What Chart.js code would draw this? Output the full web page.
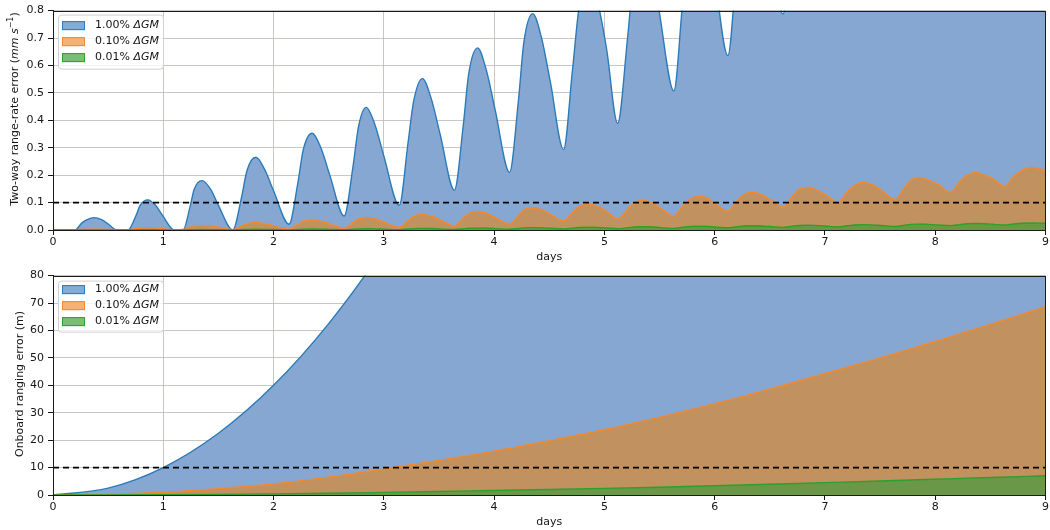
<!DOCTYPE html>
<html>
<head>
<meta charset="utf-8">
<script src="https://cdn.jsdelivr.net/npm/chart.js@4.4.1/dist/chart.umd.min.js"></script>
<style>
  body { margin: 0; background: #fff; }
  .panel { position: absolute; left: 0; width: 1050px; height: 265px; }
</style>
</head>
<body>
<div class="panel" style="top:0"><canvas id="rateChart" width="1050" height="265"></canvas></div>
<div class="panel" style="top:265px"><canvas id="rangeChart" width="1050" height="265"></canvas></div>
<script>
// ---- data ----
const dayTicks = [0, 1, 2, 3, 4, 5, 6, 7, 8, 9];
const rateTicks = [0, 0.1, 0.2, 0.3, 0.4, 0.5, 0.6, 0.7, 0.8];
const rangeTicks = [0, 10, 20, 30, 40, 50, 60, 70, 80];
const seriesNames = ['1.00% ', '0.10% ', '0.01% '];
const rateLimit = 0.1;
const rangeLimit = 10;

// two-way range-rate error (mm/s); one row per oscillation:
// rising flank, shoulder, peak, shoulder, falling flank, trough
const rrDays = [0,
  0.2, 0.26, 0.31, 0.37, 0.44, 0.5, 0.58,
  0.68, 0.75, 0.79, 0.86, 0.93, 0.99, 1.1,
  1.18, 1.24, 1.28, 1.35, 1.43, 1.5, 1.63,
  1.71, 1.76, 1.84, 1.92, 2.0, 2.14,
  2.22, 2.27, 2.35, 2.43, 2.51, 2.64,
  2.72, 2.77, 2.84, 2.92, 3.0, 3.14,
  3.22, 3.27, 3.35, 3.43, 3.51, 3.64,
  3.72, 3.77, 3.85, 3.93, 4.01, 4.14,
  4.22, 4.27, 4.35, 4.43, 4.51, 4.63,
  4.71, 4.77, 4.86, 4.94, 5.02, 5.12,
  5.21, 5.27, 5.35, 5.43, 5.5, 5.63,
  5.71, 5.78, 5.86, 5.94, 6.0, 6.12,
  6.2, 6.26, 6.34, 6.42, 6.5, 6.62,
  6.7, 6.76, 6.83, 6.91, 7.0, 7.12,
  7.2, 7.27, 7.35, 7.43, 7.51, 7.64,
  7.72, 7.78, 7.85, 7.93, 8.02, 8.14,
  8.22, 8.29, 8.37, 8.45, 8.52, 8.63,
  8.71, 8.8, 8.88, 9.0];
const rrBlue = [0,
  0, 0.025, 0.038, 0.045, 0.038, 0.022, 0,
  0, 0.05, 0.09, 0.11, 0.09, 0.055, 0,
  0, 0.08, 0.148, 0.18, 0.148, 0.09, 0,
  0.12, 0.218, 0.265, 0.22, 0.143, 0.021,
  0.17, 0.294, 0.353, 0.299, 0.2, 0.051,
  0.23, 0.376, 0.447, 0.383, 0.27, 0.09,
  0.32, 0.469, 0.552, 0.479, 0.35, 0.145,
  0.38, 0.57, 0.664, 0.582, 0.437, 0.21,
  0.47, 0.685, 0.789, 0.7, 0.54, 0.293,
  0.58, 0.81, 0.93, 0.83, 0.66, 0.389,
  0.7, 0.95, 1.07, 0.97, 0.79, 0.507,
  0.83, 1.09, 1.22, 1.11, 0.93, 0.636,
  0.97, 1.24, 1.37, 1.27, 1.08, 0.787,
  1.13, 1.41, 1.55, 1.45, 1.27, 0.99,
  1.33, 1.6, 1.74, 1.63, 1.43, 1.12,
  1.48, 1.78, 1.92, 1.83, 1.65, 1.38,
  1.7, 1.97, 2.1, 2.01, 1.85, 1.59,
  1.9, 2.2, 2.28, 2.17];
const rrOrange = [0,
  0.001, 0.002, 0.0027, 0.003, 0.0027, 0.002, 0.001,
  0.001, 0.005, 0.007, 0.008, 0.007, 0.005, 0.001,
  0.002, 0.01, 0.015, 0.017, 0.015, 0.01, 0.001,
  0.015, 0.023, 0.027, 0.023, 0.016, 0.003,
  0.02, 0.031, 0.036, 0.032, 0.022, 0.006,
  0.027, 0.04, 0.046, 0.041, 0.029, 0.01,
  0.034, 0.05, 0.057, 0.051, 0.037, 0.015,
  0.043, 0.061, 0.068, 0.061, 0.046, 0.022,
  0.052, 0.073, 0.081, 0.074, 0.057, 0.033,
  0.064, 0.086, 0.094, 0.086, 0.068, 0.04,
  0.075, 0.1, 0.109, 0.1, 0.082, 0.051,
  0.088, 0.114, 0.123, 0.115, 0.097, 0.069,
  0.104, 0.128, 0.138, 0.13, 0.112, 0.083,
  0.12, 0.146, 0.156, 0.148, 0.13, 0.1,
  0.138, 0.163, 0.174, 0.165, 0.145, 0.112,
  0.153, 0.181, 0.192, 0.183, 0.167, 0.138,
  0.175, 0.2, 0.21, 0.2, 0.187, 0.159,
  0.195, 0.22, 0.228, 0.217];
const rrGreen = [0,
  0, 0, 0.0002, 0.0003, 0.0003, 0.0002, 0.0001,
  0.0001, 0.0005, 0.0007, 0.0008, 0.0007, 0.0005, 0.0001,
  0.0002, 0.001, 0.0015, 0.0017, 0.0015, 0.001, 0.0002,
  0.0015, 0.0023, 0.0027, 0.0024, 0.0016, 0.0004,
  0.002, 0.0031, 0.0036, 0.0032, 0.0023, 0.0008,
  0.0028, 0.0041, 0.0047, 0.0042, 0.003, 0.0012,
  0.0036, 0.0051, 0.0058, 0.0052, 0.0039, 0.0018,
  0.0045, 0.0063, 0.007, 0.0063, 0.005, 0.0026,
  0.0055, 0.0077, 0.0085, 0.0078, 0.0062, 0.0038,
  0.007, 0.0092, 0.01, 0.0093, 0.0075, 0.0047,
  0.0083, 0.011, 0.012, 0.011, 0.0092, 0.006,
  0.0098, 0.0128, 0.0137, 0.0129, 0.0108, 0.008,
  0.0117, 0.0145, 0.0155, 0.0146, 0.0126, 0.0096,
  0.0135, 0.0165, 0.0175, 0.0167, 0.0147, 0.0115,
  0.0155, 0.0184, 0.0195, 0.0186, 0.0165, 0.013,
  0.0172, 0.0204, 0.0215, 0.0206, 0.0188, 0.0158,
  0.0197, 0.0226, 0.0236, 0.0227, 0.021, 0.018,
  0.022, 0.0248, 0.0256, 0.0245];

// onboard ranging error (m)
const rangeDays = [0, 0.5, 1, 1.5, 2, 2.5, 3, 3.5, 4, 4.5, 5, 5.5, 6, 6.5, 7, 7.5, 8, 8.5, 9];
const rangeBlue = [0, 2.5, 10, 22.5, 40, 62.5, 90, 122, 160, 202, 250, 302, 360, 422, 490, 562, 640, 722, 810];
const rangeOrange = [0, 0.25, 1.0, 2.3, 4.0, 6.5, 9.5, 12.6, 16, 19.8, 23.8, 28.4, 33.3, 38.6, 44.3, 50, 56, 62.2, 68.7];
const rangeGreen = [0, 0.03, 0.1, 0.22, 0.4, 0.64, 0.95, 1.28, 1.65, 2.0, 2.4, 2.85, 3.35, 3.9, 4.5, 5.1, 5.75, 6.4, 7.0];

// ---- styling ----
const FONT = '"DejaVu Sans", sans-serif';
const TXT = '#151515';
const GRID = '#bdb8b2';
const lineColors = ['#2b7bba', '#f5882a', '#2ca02c'];
const fillColors = ['rgb(134,167,209)', 'rgb(193,145,95)', 'rgb(106,152,72)'];
const patchColors = ['rgb(128,172,214)', 'rgb(245,178,115)', 'rgb(122,190,118)'];

function points(xs, ys) {
  return xs.map((x, i) => ({ x: x, y: ys[i] }));
}

function drawRuns(ctx, runs, cx, cy) {
  const fontFor = r => (r.s === 'i' ? 'italic ' : '') + (r.s === 'sup' ? 8 : 11) + 'px ' + FONT;
  let total = 0;
  runs.forEach(r => { ctx.font = fontFor(r); total += ctx.measureText(r.t).width; });
  let x = cx - total / 2;
  ctx.textAlign = 'left';
  ctx.textBaseline = 'middle';
  runs.forEach(r => {
    ctx.font = fontFor(r);
    ctx.fillText(r.t, x, r.s === 'sup' ? cy - 4 : cy);
    x += ctx.measureText(r.t).width;
  });
}

const overlay = {
  id: 'overlay',
  afterDraw(chart, args, opts) {
    const ctx = chart.ctx, a = chart.chartArea;
    ctx.save();
    // full frame
    ctx.strokeStyle = '#1b1b1b';
    ctx.lineWidth = 1;
    ctx.strokeRect(Math.round(a.left) + 0.5, Math.round(a.top) + 0.5,
      Math.round(a.right) - Math.round(a.left) - 1, Math.round(a.bottom) - Math.round(a.top));

    // legend in upper left
    const lx = a.left + 5, ly = a.top + opts.legendTop, lw = 105, lh = opts.legendH;
    ctx.beginPath();
    ctx.roundRect(lx + 0.5, ly + 0.5, lw, lh, 3);
    ctx.fillStyle = 'rgba(255,255,255,0.8)';
    ctx.fill();
    ctx.strokeStyle = '#d0d0d0';
    ctx.stroke();
    seriesNames.forEach((name, i) => {
      const cy = a.top + opts.rowTop + i * 16;
      ctx.fillStyle = patchColors[i];
      ctx.fillRect(a.left + 9, cy - 4.5, 23, 9);
      ctx.strokeStyle = lineColors[i];
      ctx.lineWidth = 1;
      ctx.strokeRect(a.left + 9.5, cy - 4, 22, 8);
      ctx.fillStyle = TXT;
      ctx.textBaseline = 'middle';
      ctx.textAlign = 'left';
      ctx.font = '11px ' + FONT;
      ctx.fillText(name, a.left + 42, cy);
      const w = ctx.measureText(name).width;
      ctx.font = 'italic 11px ' + FONT;
      ctx.fillText('\u0394GM', a.left + 42 + w, cy);
    });

    // axis titles
    ctx.fillStyle = TXT;
    drawRuns(ctx, [{ t: 'days', s: 'n' }], (a.left + a.right) / 2, 257);
    ctx.translate(opts.yTitleX, opts.yTitleY);
    ctx.rotate(-Math.PI / 2);
    drawRuns(ctx, opts.yTitle, 0, 0);
    ctx.restore();
  }
};

function makeChart(id, xs, blue, orange, green, yTicks, limit, fmt, extra) {
  const mk = (ys, i) => ({
    data: points(xs, ys),
    borderColor: lineColors[i],
    backgroundColor: fillColors[i],
    borderWidth: 1.4,
    fill: 'origin',
    pointRadius: 0,
    cubicInterpolationMode: 'monotone',
    clip: 0,
    order: 3 - i
  });
  const yMax = yTicks[yTicks.length - 1];
  new Chart(document.getElementById(id).getContext('2d'), {
    type: 'line',
    data: {
      datasets: [
        mk(blue, 0), mk(orange, 1), mk(green, 2),
        {
          data: [{ x: dayTicks[0], y: limit }, { x: dayTicks[dayTicks.length - 1], y: limit }],
          borderColor: '#000', borderWidth: 1.6, borderDash: [6, 4],
          fill: false, pointRadius: 0, order: 0
        }
      ]
    },
    options: {
      responsive: false,
      animation: false,
      devicePixelRatio: 1,
      layout: { padding: { left: 0, right: 3, top: 9, bottom: 0 } },
      plugins: { legend: { display: false }, tooltip: { enabled: false }, overlay: extra },
      scales: {
        x: {
          type: 'linear', min: dayTicks[0], max: dayTicks[dayTicks.length - 1], z: 1,
          afterBuildTicks: s => { s.ticks = dayTicks.map(v => ({ value: v })); },
          afterFit: s => { s.height = 35; },
          ticks: { font: { family: FONT, size: 11 }, color: TXT, padding: 1, maxRotation: 0 },
          grid: { color: GRID, lineWidth: 0.8, tickLength: 5, tickColor: TXT, tickWidth: 1 },
          border: { color: '#1b1b1b', width: 1 }
        },
        y: {
          type: 'linear', min: 0, max: yMax, z: 1,
          afterBuildTicks: s => { s.ticks = yTicks.map(v => ({ value: v })); },
          afterFit: s => { s.width = 53; },
          ticks: { font: { family: FONT, size: 11 }, color: TXT, padding: 4, callback: fmt },
          grid: { color: GRID, lineWidth: 0.8, tickLength: 5, tickColor: TXT, tickWidth: 1 },
          border: { color: '#1b1b1b', width: 1 }
        }
      }
    },
    plugins: [overlay]
  });
}

makeChart('rateChart', rrDays, rrBlue, rrOrange, rrGreen, rateTicks, rateLimit,
  v => v.toFixed(1),
  { legendTop: 4, legendH: 54, rowTop: 15, yTitleX: 15, yTitleY: 109,
    yTitle: [{ t: 'Two-way range-rate error (', s: 'n' }, { t: 'mm s', s: 'i' },
             { t: '\u22121', s: 'sup' }, { t: ')', s: 'n' }] });

makeChart('rangeChart', rangeDays, rangeBlue, rangeOrange, rangeGreen, rangeTicks, rangeLimit,
  v => String(v),
  { legendTop: 5, legendH: 51, rowTop: 14, yTitleX: 20, yTitleY: 119,
    yTitle: [{ t: 'Onboard ranging error (m)', s: 'n' }] });
</script>
</body>
</html>
